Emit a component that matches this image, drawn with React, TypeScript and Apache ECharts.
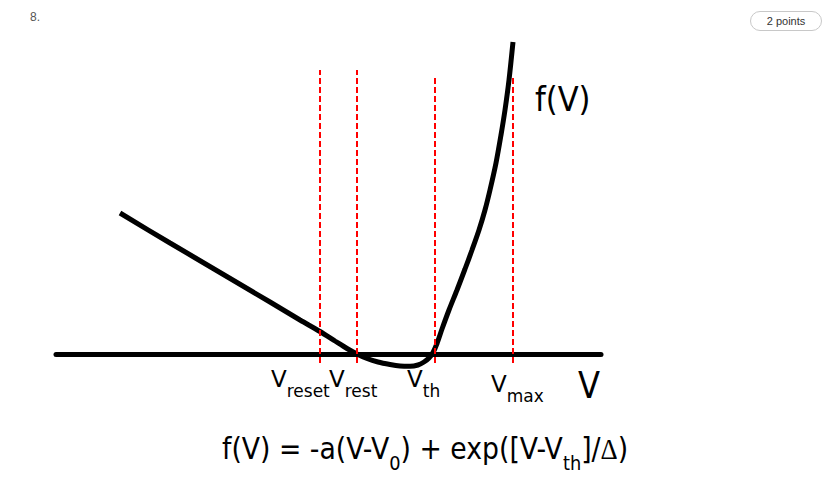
import React, { useEffect, useRef } from "react";
import * as echarts from "echarts";

// f(V) curve (V in horizontal units, f in vertical units; f = 0 on the V axis)
const curveV = [120, 170, 220, 270, 300, 320, 335, 347, 357, 367, 378, 390, 400, 410, 418, 424, 429, 433, 437, 442, 449, 457, 465, 472, 479, 485, 490, 496, 501, 505, 509, 513];
const curveF = [141.5, 111.5, 82, 52.5, 34.5, 23, 13.5, 6, 0.5, -4, -7.5, -10, -11.5, -11.8, -10.5, -7.5, -3.5, 2, 11, 25.5, 44.5, 64.5, 85.5, 104.5, 124.5, 144.5, 164.5, 191.5, 219.5, 244.5, 274.5, 312.5];

// red dashed markers: V_reset, V_rest, V_th, V_max
const markerNames = ["reset", "rest", "th", "max"];
const markerV = [320, 357, 435, 513];
const markerTop = [284.5, 284.5, 279.5, 279.5];
const markerBottom = [-8.5, -8.5, -8.5, -8.5];

const axisMinV = 56;
const axisMaxV = 601;

const FONT = "'DejaVu Sans', Verdana, sans-serif";

export default function App() {
  const ref = useRef<HTMLDivElement>(null);
  useEffect(() => {
    if (!ref.current) return;
    const chart = echarts.init(ref.current, null, { renderer: "svg" });

    const markerSeries = markerV.map((v, i) => ({
      type: "line",
      name: "V_" + markerNames[i],
      data: [
        [v, markerBottom[i]],
        [v, markerTop[i]],
      ],
      showSymbol: false,
      symbol: "none",
      z: 5,
      lineStyle: { color: "#ff0000", width: 2, type: [6, 3] },
      silent: true,
    }));

    const subLabel = (main: string, sub: string, x: number, top: number) => ({
      type: "text",
      x,
      y: top,
      style: {
        text: `{v|${main}}{s|${sub}}`,
        verticalAlign: "top",
        align: "left",
        rich: {
          v: { fontSize: 23, fontFamily: FONT, lineHeight: 26, verticalAlign: "top", fill: "#000" },
          s: { fontSize: 17, fontFamily: FONT, lineHeight: 18, padding: [15, 0, 0, 0], verticalAlign: "top", fill: "#000" },
        },
      },
    });

    chart.setOption({
      animation: false,
      backgroundColor: "#ffffff",
      grid: { left: axisMinV, right: 832 - axisMaxV, top: 24.5, height: 360 },
      xAxis: {
        type: "value",
        min: axisMinV,
        max: axisMaxV,
        axisLine: { show: true, onZero: true, lineStyle: { color: "#000", width: 5 } },
        axisTick: { show: false },
        axisLabel: { show: false },
        splitLine: { show: false },
      },
      yAxis: {
        type: "value",
        min: -30,
        max: 330,
        axisLine: { show: false },
        axisTick: { show: false },
        axisLabel: { show: false },
        splitLine: { show: false },
      },
      series: [
        {
          type: "line",
          name: "f(V)",
          data: curveV.map((v, i) => [v, curveF[i]]),
          showSymbol: false,
          symbol: "none",
          smooth: 0.3,
          z: 3,
          lineStyle: { color: "#000", width: 5, cap: "butt" },
          silent: true,
        },
        ...markerSeries,
      ],
      graphic: [
        {
          type: "text",
          x: 30,
          y: 17,
          style: { text: "8.", fontSize: 12, fontFamily: "'Liberation Sans', Arial, sans-serif", fill: "#555", verticalAlign: "middle" },
        },
        {
          type: "rect",
          shape: { x: 750.5, y: 11.5, width: 71, height: 19, r: 9.5 },
          style: { fill: "#fff", stroke: "#c8c8c8", lineWidth: 1 },
        },
        {
          type: "text",
          x: 786,
          y: 21,
          style: { text: "2 points", fontSize: 11, fontFamily: "'Liberation Sans', Arial, sans-serif", fill: "#333", align: "center", verticalAlign: "middle" },
        },
        {
          type: "text",
          x: 535,
          y: 99,
          scaleX: 0.9,
          style: { text: "f(V)", fontSize: 34, fontFamily: FONT, fill: "#000", verticalAlign: "middle" },
        },
        subLabel("V", "reset", 271, 367),
        subLabel("V", "rest", 329, 367),
        subLabel("V", "th", 407, 367),
        subLabel("V", "max", 491, 372),
        {
          type: "text",
          x: 578,
          y: 385,
          scaleX: 0.87,
          style: { text: "V", fontSize: 37, fontFamily: FONT, fill: "#000", verticalAlign: "middle" },
        },
        {
          type: "text",
          x: 222,
          y: 434,
          scaleX: 0.89,
          style: {
            text: "{m|f(V) = -a(V-V}{s|0}{m|) + exp([V-V}{s|th}{m|]/}{d|Δ}{m|)}",
            verticalAlign: "top",
            align: "left",
            rich: {
              m: { fontSize: 30, fontFamily: FONT, lineHeight: 35, verticalAlign: "top", fill: "#000" },
              s: { fontSize: 20, fontFamily: FONT, lineHeight: 21, padding: [19, 0, 0, 0], verticalAlign: "top", fill: "#000" },
              d: { fontSize: 30, fontFamily: "'Liberation Serif', 'DejaVu Serif', serif", lineHeight: 35, verticalAlign: "top", fill: "#000" },
            },
          },
        },
      ],
    });
    return () => chart.dispose();
  }, []);
  return <div ref={ref} style={{ position: "fixed", left: 0, top: 0, width: 832, height: 480 }} />;
}
